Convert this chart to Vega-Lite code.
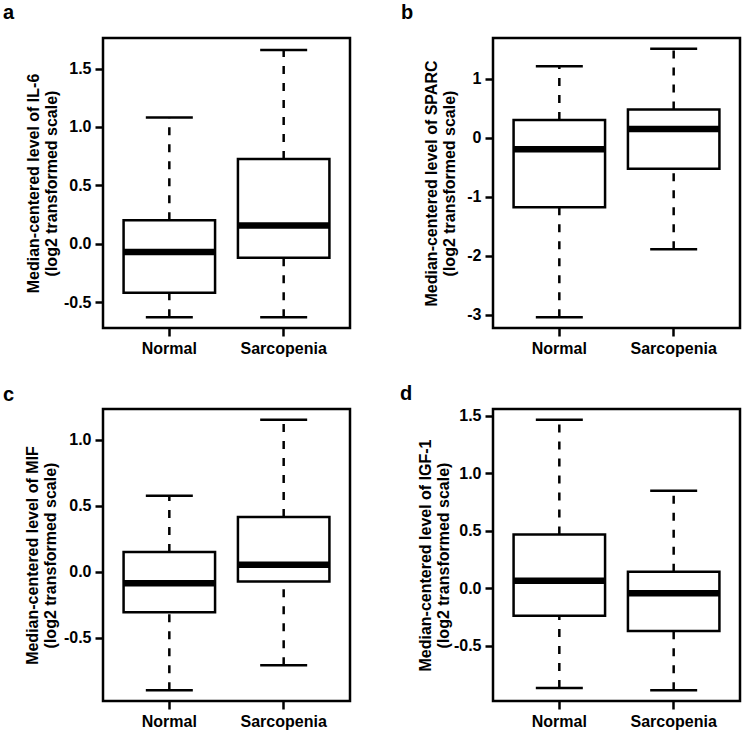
{
  "$schema": "https://vega.github.io/schema/vega-lite/v6.json",
  "background": "white",
  "padding": {"left": 1, "top": 1, "right": 0, "bottom": 0},
  "data": {"values": [
    {"panel": "a", "group": "Normal", "lower": -0.63, "q1": -0.42, "median": -0.07, "q3": 0.20, "upper": 1.08},
    {"panel": "a", "group": "Sarcopenia", "lower": -0.63, "q1": -0.12, "median": 0.156, "q3": 0.726, "upper": 1.66},
    {"panel": "b", "group": "Normal", "lower": -3.04, "q1": -1.18, "median": -0.196, "q3": 0.298, "upper": 1.21},
    {"panel": "b", "group": "Sarcopenia", "lower": -1.89, "q1": -0.527, "median": 0.146, "q3": 0.478, "upper": 1.505},
    {"panel": "c", "group": "Normal", "lower": -0.90, "q1": -0.309, "median": -0.089, "q3": 0.149, "upper": 0.575},
    {"panel": "c", "group": "Sarcopenia", "lower": -0.71, "q1": -0.075, "median": 0.052, "q3": 0.415, "upper": 1.152},
    {"panel": "d", "group": "Normal", "lower": -0.865, "q1": -0.237, "median": 0.067, "q3": 0.468, "upper": 1.463},
    {"panel": "d", "group": "Sarcopenia", "lower": -0.884, "q1": -0.37, "median": -0.043, "q3": 0.145, "upper": 0.848}
  ]},
  "columns": 2,
  "spacing": {"row": 81, "column": 143},
  "bounds": "flush",
  "concat": [
    {
      "width": 247, "height": 290,
      "title": {"text": "a", "dx": -100, "offset": 15},
      "transform": [{"filter": "datum.panel === 'a'"}],
      "encoding": {"x": {"field": "group", "type": "nominal", "sort": null, "scale": {"paddingInner": 0.2, "paddingOuter": 0.18}, "axis": {"title": null}}},
      "layer": [
        {"mark": {"type": "rule", "strokeDash": [8, 9], "strokeWidth": 2.5, "color": "black"},
         "encoding": {"y": {"field": "lower", "type": "quantitative", "scale": {"domain": [-0.722, 1.762], "nice": false, "zero": false},
           "axis": {"values": [-0.5, 0, 0.5, 1, 1.5], "format": ".1f", "titlePadding": 4, "title": ["Median-centered level of IL-6", "(log2 transformed scale)"]}},
           "y2": {"field": "q1"}}},
        {"mark": {"type": "rule", "strokeDash": [8, 9], "strokeWidth": 2.5, "color": "black"},
         "encoding": {"y": {"field": "q3", "type": "quantitative"}, "y2": {"field": "upper"}}},
        {"mark": {"type": "tick", "size": 47, "thickness": 2.5, "color": "black", "opacity": 1},
         "encoding": {"y": {"field": "lower", "type": "quantitative"}}},
        {"mark": {"type": "tick", "size": 47, "thickness": 2.5, "color": "black", "opacity": 1},
         "encoding": {"y": {"field": "upper", "type": "quantitative"}}},
        {"mark": {"type": "bar", "fill": "white", "stroke": "black", "strokeWidth": 2.5, "opacity": 1},
         "encoding": {"y": {"field": "q1", "type": "quantitative"}, "y2": {"field": "q3"}}},
        {"mark": {"type": "tick", "size": 92, "thickness": 6.5, "color": "black", "opacity": 1},
         "encoding": {"y": {"field": "median", "type": "quantitative"}}}
      ]
    },
    {
      "width": 247, "height": 290,
      "title": {"text": "b", "dx": -92, "offset": 15},
      "transform": [{"filter": "datum.panel === 'b'"}],
      "encoding": {"x": {"field": "group", "type": "nominal", "sort": null, "scale": {"paddingInner": 0.2, "paddingOuter": 0.18}, "axis": {"title": null}}},
      "layer": [
        {"mark": {"type": "rule", "strokeDash": [8, 9], "strokeWidth": 2.5, "color": "black"},
         "encoding": {"y": {"field": "lower", "type": "quantitative", "scale": {"domain": [-3.222, 1.687], "nice": false, "zero": false},
           "axis": {"values": [-3, -2, -1, 0, 1], "format": "d", "titlePadding": 9, "title": ["Median-centered level of SPARC", "(log2 transformed scale)"]}},
           "y2": {"field": "q1"}}},
        {"mark": {"type": "rule", "strokeDash": [8, 9], "strokeWidth": 2.5, "color": "black"},
         "encoding": {"y": {"field": "q3", "type": "quantitative"}, "y2": {"field": "upper"}}},
        {"mark": {"type": "tick", "size": 47, "thickness": 2.5, "color": "black", "opacity": 1},
         "encoding": {"y": {"field": "lower", "type": "quantitative"}}},
        {"mark": {"type": "tick", "size": 47, "thickness": 2.5, "color": "black", "opacity": 1},
         "encoding": {"y": {"field": "upper", "type": "quantitative"}}},
        {"mark": {"type": "bar", "fill": "white", "stroke": "black", "strokeWidth": 2.5, "opacity": 1},
         "encoding": {"y": {"field": "q1", "type": "quantitative"}, "y2": {"field": "q3"}}},
        {"mark": {"type": "tick", "size": 92, "thickness": 6.5, "color": "black", "opacity": 1},
         "encoding": {"y": {"field": "median", "type": "quantitative"}}}
      ]
    },
    {
      "width": 247, "height": 292,
      "title": {"text": "c", "dx": -100, "offset": 4},
      "transform": [{"filter": "datum.panel === 'c'"}],
      "encoding": {"x": {"field": "group", "type": "nominal", "sort": null, "scale": {"paddingInner": 0.2, "paddingOuter": 0.18}, "axis": {"title": null}}},
      "layer": [
        {"mark": {"type": "rule", "strokeDash": [8, 9], "strokeWidth": 2.5, "color": "black"},
         "encoding": {"y": {"field": "lower", "type": "quantitative", "scale": {"domain": [-0.981, 1.233], "nice": false, "zero": false},
           "axis": {"values": [-0.5, 0, 0.5, 1], "format": ".1f", "titlePadding": 5, "title": ["Median-centered level of MIF", "(log2 transformed scale)"]}},
           "y2": {"field": "q1"}}},
        {"mark": {"type": "rule", "strokeDash": [8, 9], "strokeWidth": 2.5, "color": "black"},
         "encoding": {"y": {"field": "q3", "type": "quantitative"}, "y2": {"field": "upper"}}},
        {"mark": {"type": "tick", "size": 47, "thickness": 2.5, "color": "black", "opacity": 1},
         "encoding": {"y": {"field": "lower", "type": "quantitative"}}},
        {"mark": {"type": "tick", "size": 47, "thickness": 2.5, "color": "black", "opacity": 1},
         "encoding": {"y": {"field": "upper", "type": "quantitative"}}},
        {"mark": {"type": "bar", "fill": "white", "stroke": "black", "strokeWidth": 2.5, "opacity": 1},
         "encoding": {"y": {"field": "q1", "type": "quantitative"}, "y2": {"field": "q3"}}},
        {"mark": {"type": "tick", "size": 92, "thickness": 6.5, "color": "black", "opacity": 1},
         "encoding": {"y": {"field": "median", "type": "quantitative"}}}
      ]
    },
    {
      "width": 247, "height": 292,
      "title": {"text": "d", "dx": -93, "offset": 4},
      "transform": [{"filter": "datum.panel === 'd'"}],
      "encoding": {"x": {"field": "group", "type": "nominal", "sort": null, "scale": {"paddingInner": 0.2, "paddingOuter": 0.18}, "axis": {"title": null}}},
      "layer": [
        {"mark": {"type": "rule", "strokeDash": [8, 9], "strokeWidth": 2.5, "color": "black"},
         "encoding": {"y": {"field": "lower", "type": "quantitative", "scale": {"domain": [-0.978, 1.557], "nice": false, "zero": false},
           "axis": {"values": [-0.5, 0, 0.5, 1, 1.5], "format": ".1f", "titlePadding": 2, "title": ["Median-centered level of IGF-1", "(log2 transformed scale)"]}},
           "y2": {"field": "q1"}}},
        {"mark": {"type": "rule", "strokeDash": [8, 9], "strokeWidth": 2.5, "color": "black"},
         "encoding": {"y": {"field": "q3", "type": "quantitative"}, "y2": {"field": "upper"}}},
        {"mark": {"type": "tick", "size": 47, "thickness": 2.5, "color": "black", "opacity": 1},
         "encoding": {"y": {"field": "lower", "type": "quantitative"}}},
        {"mark": {"type": "tick", "size": 47, "thickness": 2.5, "color": "black", "opacity": 1},
         "encoding": {"y": {"field": "upper", "type": "quantitative"}}},
        {"mark": {"type": "bar", "fill": "white", "stroke": "black", "strokeWidth": 2.5, "opacity": 1},
         "encoding": {"y": {"field": "q1", "type": "quantitative"}, "y2": {"field": "q3"}}},
        {"mark": {"type": "tick", "size": 92, "thickness": 6.5, "color": "black", "opacity": 1},
         "encoding": {"y": {"field": "median", "type": "quantitative"}}}
      ]
    }
  ],
  "config": {
    "locale": {"number": {"decimal": ".", "thousands": ",", "grouping": [3], "currency": ["$", ""], "minus": "-"}},
    "font": "Liberation Sans",
    "view": {"stroke": "black", "strokeWidth": 2.5},
    "title": {"anchor": "start", "frame": "group", "fontSize": 20, "fontWeight": "bold", "font": "Liberation Sans", "color": "black", "baseline": "alphabetic"},
    "axis": {
      "domain": false, "grid": false,
      "tickColor": "black", "tickSize": 8, "tickWidth": 2.5,
      "labelFont": "Liberation Sans", "labelFontSize": 16, "labelFontWeight": "bold", "labelColor": "black",
      "titleFont": "Liberation Sans", "titleFontSize": 16, "titleFontWeight": "bold", "titleColor": "black", "titleLineHeight": 18
    },
    "axisY": {"labelPadding": 4, "labelFlush": false, "labelOverlap": false},
    "axisX": {"labelAngle": 0, "labelPadding": 4, "bandPosition": 0.5}
  }
}
